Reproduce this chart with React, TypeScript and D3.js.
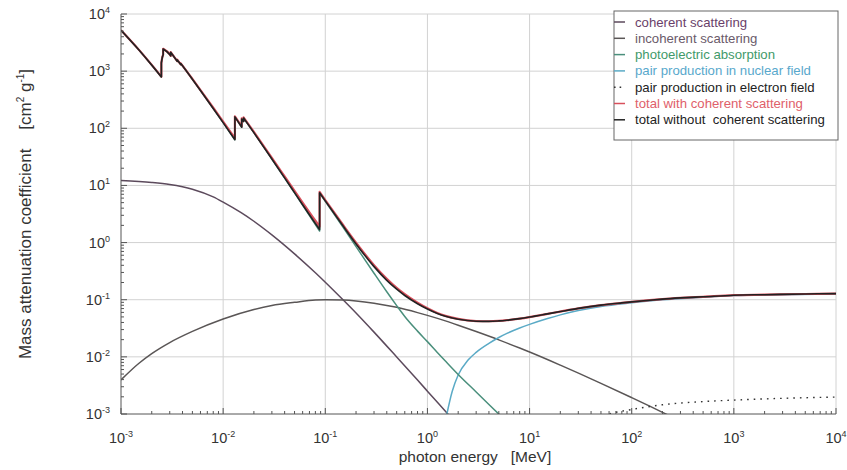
import React from "react";
import * as d3 from "d3";

// Lead (Pb) photon mass attenuation coefficients, cm^2/g, versus photon energy in MeV.
// Absorption edges appear as repeated energies.
const TOTAL_E = [
  0.001, 0.0015, 0.002, 0.002484, 0.002484, 0.002534, 0.002586, 0.002586, 0.003, 0.003066,
  0.003066, 0.003301, 0.003554, 0.003554, 0.003699, 0.003851, 0.003851, 0.004, 0.005, 0.006,
  0.008, 0.01, 0.013035, 0.013035, 0.015, 0.0152, 0.0152, 0.01553, 0.01586, 0.01586,
  0.02, 0.03, 0.04, 0.05, 0.06, 0.08, 0.088, 0.088, 0.1, 0.15,
  0.2, 0.3, 0.4, 0.5, 0.6, 0.8, 1, 1.25, 1.5, 2,
  3, 4, 5, 6, 8, 10, 15, 20, 30, 50,
  80, 100, 150, 200, 300, 500, 1000, 2000, 5000, 10000,
];
const TOTAL_WITH_COH = [
  5210, 2356, 1285, 800.6, 1397, 1726, 1944, 2458, 1965, 1857,
  2146, 1796, 1496, 1585, 1442, 1311, 1368, 1251, 730.4, 467.2,
  228.7, 130.6, 67.01, 162.1, 111.6, 107.8, 148.5, 141.6, 134.4, 154.8,
  86.36, 30.32, 14.36, 8.041, 5.021, 2.419, 1.91, 7.683, 5.549, 2.014,
  0.9985, 0.4031, 0.2323, 0.1614, 0.1248, 0.0887, 0.07102, 0.05876, 0.05222, 0.04606,
  0.04234, 0.04197, 0.04272, 0.04391, 0.04675, 0.04972, 0.05658, 0.06206, 0.0705, 0.0805,
  0.088, 0.0915, 0.098, 0.1025, 0.1075, 0.1125, 0.12, 0.1225, 0.126, 0.128,
];
const TOTAL_NO_COH = [
  5198, 2344, 1274, 790, 1386, 1715, 1933, 2447, 1955, 1847,
  2136, 1786, 1486, 1575, 1432, 1301, 1358, 1241, 721.8, 459.4,
  222.4, 125.5, 63.2, 158.3, 108.3, 104.5, 145.2, 138.4, 131.3, 151.7,
  83.96, 29.07, 13.56, 7.48, 4.6, 2.16, 1.69, 7.46, 5.37, 1.926,
  0.9465, 0.379, 0.2183, 0.1526, 0.1185, 0.0851, 0.0687, 0.0573, 0.0512, 0.0455,
  0.0421, 0.0418, 0.0426, 0.0438, 0.0467, 0.0497, 0.0565, 0.062, 0.0705, 0.0805,
  0.088, 0.0915, 0.098, 0.1025, 0.1075, 0.1125, 0.12, 0.1225, 0.126, 0.128,
];
// photoelectric absorption shares the energy grid up to 6 MeV
const PHOTO = [
  5198, 2344, 1274, 790, 1386, 1715, 1933, 2447, 1955, 1847,
  2136, 1786, 1486, 1575, 1432, 1301, 1358, 1241, 721.8, 459.4,
  222.4, 125.4, 63.1, 158.2, 108.2, 104.4, 145.1, 138.3, 131.2, 151.6,
  83.9, 28.99, 13.47, 7.39, 4.51, 2.06, 1.59, 7.36, 5.27, 1.827,
  0.852, 0.291, 0.1377, 0.0788, 0.0509, 0.0282, 0.01847, 0.01195, 0.00845, 0.00493,
  0.00243, 0.00147, 0.000995, 0.000723,
];

const COH_E = [0.001, 0.002, 0.003, 0.005, 0.008, 0.01, 0.015, 0.02, 0.03, 0.05, 0.08, 0.1, 0.15, 0.2, 0.3, 0.5, 0.8, 1, 1.5, 2, 3];
const COHERENT = [12.2, 11.3, 10.4, 8.6, 6.3, 5.1, 3.33, 2.36, 1.364, 0.634, 0.296, 0.2025, 0.0988, 0.0586, 0.0271, 0.00995, 0.00392, 0.00251, 0.001115, 0.000627, 0.000279];

const INCOH_E = [0.001, 0.0015, 0.002, 0.003, 0.005, 0.01, 0.02, 0.03, 0.05, 0.08, 0.1, 0.15, 0.2, 0.3, 0.5, 0.8, 1, 1.5, 2, 3, 5, 8, 10, 20, 50, 100, 150, 200, 300];
const INCOHERENT = [0.00396, 0.00773, 0.0114, 0.0178, 0.0279, 0.046, 0.0673, 0.0792, 0.09, 0.0989, 0.0998, 0.0986, 0.0952, 0.0871, 0.0736, 0.0595, 0.0532, 0.0426, 0.0358, 0.0277, 0.0198, 0.01425, 0.01214, 0.00716, 0.00344, 0.00193, 0.00137, 0.00107, 0.00075];

const PAIR_NUC_E = [1.4, 1.5, 1.75, 2, 2.5, 3, 4, 5, 6, 8, 10, 15, 20, 30, 50, 100, 200, 500, 1000, 3000, 10000];
const PAIR_NUC = [0.0004, 0.00075, 0.0025, 0.0048, 0.0088, 0.012, 0.0172, 0.0218, 0.0257, 0.032, 0.037, 0.0468, 0.0543, 0.0646, 0.0762, 0.0884, 0.1, 0.1103, 0.118, 0.1217, 0.126];

const PAIR_EL_E = [30, 50, 60, 100, 200, 500, 1000, 3000, 10000];
const PAIR_EL = [0.00065, 0.0009, 0.001, 0.0012, 0.00145, 0.00165, 0.00175, 0.00188, 0.00198];

const X_TICK_EXP = [-3, -2, -1, 0, 1, 2, 3, 4];
const Y_TICK_EXP = [-3, -2, -1, 0, 1, 2, 3, 4];

const LEGEND_LABELS = [
  "coherent scattering",
  "incoherent scattering",
  "photoelectric absorption",
  "pair production in nuclear field",
  "pair production in electron field",
  "total with coherent scattering",
  "total without  coherent scattering",
];

const W = 847;
const H = 470;
const FONT = "'Liberation Sans', Arial, Helvetica, sans-serif";

const COLORS = {
  coh: "#5c4a5c",
  incoh: "#5a5656",
  photo: "#4a8f7c",
  pairNuc: "#5aaac6",
  pairEl: "#333333",
  totCoh: "#d8505c",
  tot: "#222222",
};
const LEGEND_TEXT_COLORS = ["#6a3f6a", "#6a5a6a", "#3f9a6a", "#58a8cc", "#222222", "#e0606a", "#222222"];
const LEGEND_LINE_COLORS = [COLORS.coh, COLORS.incoh, COLORS.photo, COLORS.pairNuc, COLORS.pairEl, COLORS.totCoh, COLORS.tot];

type Pt = [number, number];

function zip(xs: number[], ys: number[]): Pt[] {
  return ys.map((v, i) => [xs[i], v]);
}

// Smooth path that stays vertical at absorption edges (repeated energies).
function edgePath(pts: Pt[], gen: d3.Line<Pt>): string {
  const segs: Pt[][] = [[]];
  pts.forEach((p, i) => {
    if (i > 0 && p[0] === pts[i - 1][0]) segs.push([]);
    segs[segs.length - 1].push(p);
  });
  return segs
    .map((s, i) => {
      const d = gen(s) || "";
      return i === 0 ? d : "L" + d.slice(1);
    })
    .join("");
}

export default function App() {
  const x = d3.scaleLog().domain([1e-3, 1e4]).range([121, 836]);
  const y = d3.scaleLog().domain([1e-3, 1e4]).range([414, 14]);
  const line = d3
    .line<Pt>()
    .x((d) => x(d[0]))
    .y((d) => y(d[1]))
    .curve(d3.curveMonotoneX);

  const [x0, x1] = x.range();
  const [yb, yt] = y.range();

  const minorX: number[] = [];
  X_TICK_EXP.slice(0, -1).forEach((e) => {
    for (let m = 2; m <= 9; m++) minorX.push(m * Math.pow(10, e));
  });
  const minorY: number[] = [];
  Y_TICK_EXP.slice(0, -1).forEach((e) => {
    for (let m = 2; m <= 9; m++) minorY.push(m * Math.pow(10, e));
  });

  const series = [
    { d: zip(COH_E, COHERENT), c: COLORS.coh, w: 1.5 },
    { d: zip(INCOH_E, INCOHERENT), c: COLORS.incoh, w: 1.5 },
    { d: zip(PAIR_EL_E, PAIR_EL), c: COLORS.pairEl, w: 1.4, dash: "1.6,5" },
    { d: zip(PAIR_NUC_E, PAIR_NUC), c: COLORS.pairNuc, w: 1.5 },
    { d: zip(TOTAL_E, PHOTO), c: COLORS.photo, w: 1.5 },
    { d: zip(TOTAL_E, TOTAL_WITH_COH), c: COLORS.totCoh, w: 2.2 },
    { d: zip(TOTAL_E, TOTAL_NO_COH), c: COLORS.tot, w: 1.6 },
  ];

  const lgX = 614;
  const lgY = 11;
  const lgW = 224;
  const lgH = 129;
  const rowStep = 16.3;

  return (
    <svg
      width={W}
      height={H}
      style={{ position: "absolute", left: 0, top: 0, background: "#fff" }}
      fontFamily={FONT}
    >
      <defs>
        <clipPath id="plot-area">
          <rect x={x0} y={yt} width={x1 - x0} height={yb - yt} />
        </clipPath>
      </defs>

      {/* decade grid */}
      <g stroke="#d2d2d2" strokeWidth={1}>
        {X_TICK_EXP.slice(1).map((e) => (
          <line key={"gx" + e} x1={x(Math.pow(10, e))} x2={x(Math.pow(10, e))} y1={yt} y2={yb} />
        ))}
        {Y_TICK_EXP.slice(1).map((e) => (
          <line key={"gy" + e} x1={x0} x2={x1} y1={y(Math.pow(10, e))} y2={y(Math.pow(10, e))} />
        ))}
      </g>

      {/* curves */}
      <g clipPath="url(#plot-area)" fill="none" strokeLinejoin="round">
        {series.map((s, i) => (
          <path
            key={i}
            d={edgePath(s.d, line)}
            stroke={s.c}
            strokeWidth={s.w}
            strokeDasharray={s.dash}
          />
        ))}
      </g>

      {/* axes */}
      <g stroke="#555" strokeWidth={1}>
        <line x1={x0} x2={x0} y1={yt} y2={yb} />
        <line x1={x0} x2={x1} y1={yb} y2={yb} />
        {X_TICK_EXP.map((e) => (
          <line key={"tx" + e} x1={x(Math.pow(10, e))} x2={x(Math.pow(10, e))} y1={yb} y2={yb - 6} />
        ))}
        {minorX.map((v, i) => (
          <line key={"mx" + i} x1={x(v)} x2={x(v)} y1={yb} y2={yb - 3} />
        ))}
        {Y_TICK_EXP.map((e) => (
          <line key={"ty" + e} x1={x0} x2={x0 + 6} y1={y(Math.pow(10, e))} y2={y(Math.pow(10, e))} />
        ))}
        {minorY.map((v, i) => (
          <line key={"my" + i} x1={x0} x2={x0 + 3} y1={y(v)} y2={y(v)} />
        ))}
      </g>

      {/* tick labels */}
      <g fill="#333" fontSize={14.5}>
        {Y_TICK_EXP.map((e) => (
          <text key={"ly" + e} x={x0 - 11} y={y(Math.pow(10, e)) + 5} textAnchor="end">
            10
            <tspan dy={-6} fontSize={9}>
              {e}
            </tspan>
          </text>
        ))}
        {X_TICK_EXP.map((e) => (
          <text key={"lx" + e} x={x(Math.pow(10, e))} y={yb + 29} textAnchor="middle">
            10
            <tspan dy={-6} fontSize={9}>
              {e}
            </tspan>
          </text>
        ))}
      </g>

      {/* axis titles */}
      <text x={475} y={462} textAnchor="middle" fontSize={15.5} fill="#333">
        {"photon energy\u00a0\u00a0\u00a0[MeV]"}
      </text>
      <text
        transform={`translate(31, ${(yt + yb) / 2}) rotate(-90)`}
        textAnchor="middle"
        fontSize={17}
        fill="#333"
      >
        {"Mass attenuation coefficient\u00a0\u00a0\u00a0\u00a0[cm"}
        <tspan dy={-7} fontSize={10}>2</tspan>
        <tspan dy={7}>{"\u00a0g"}</tspan>
        <tspan dy={-7} fontSize={10}>-1</tspan>
        <tspan dy={7}>]</tspan>
      </text>

      {/* legend */}
      <g>
        <rect x={lgX} y={lgY} width={lgW} height={lgH} fill="#fff" stroke="#666" strokeWidth={1} />
        {LEGEND_LABELS.map((lab, i) => {
          const cy = lgY + 11 + i * rowStep;
          return (
            <g key={lab}>
              <line
                x1={lgX}
                x2={lgX + 11}
                y1={cy}
                y2={cy}
                stroke={LEGEND_LINE_COLORS[i]}
                strokeWidth={1.5}
                strokeDasharray={i === 4 ? "1.6,4" : undefined}
              />
              <text x={lgX + 21} y={cy + 4.5} fontSize={13.2} fill={LEGEND_TEXT_COLORS[i]}>
                {lab.replace(/ {2}/g, "\u00a0\u00a0")}
              </text>
            </g>
          );
        })}
      </g>
    </svg>
  );
}
